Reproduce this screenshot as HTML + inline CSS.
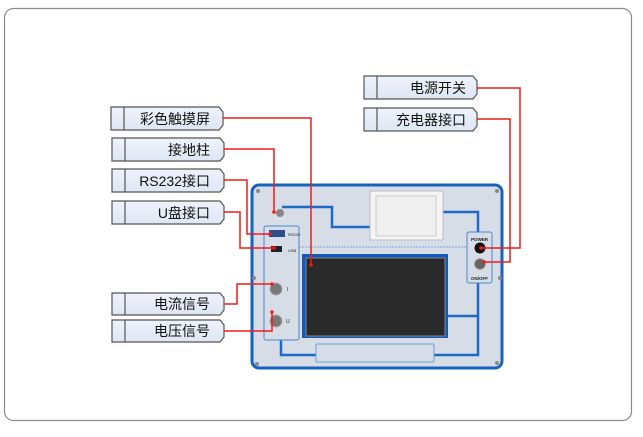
<!DOCTYPE html>
<html><head><meta charset="utf-8"><style>
html,body{margin:0;padding:0;background:#fff;}
svg{display:block;}
text{font-family:"Liberation Sans","Noto Sans CJK SC",sans-serif;}
</style></head><body>
<svg width="643" height="437" viewBox="0 0 643 437" xmlns="http://www.w3.org/2000/svg">
<rect x="4.5" y="8.5" width="627" height="412" rx="9" fill="#fff" stroke="#8a8a8a" stroke-width="1.2"/>
<defs>
<linearGradient id="lb" x1="0" y1="0" x2="0" y2="1"><stop offset="0" stop-color="#eef2fb"/><stop offset="1" stop-color="#dfe6f3"/></linearGradient>
</defs>
<!-- labels -->
<g stroke="#555" stroke-width="1.2" fill="url(#lb)">
<path d="M111,107 H219 L223,112 V125 L219,130 H111 Z"/>
<path d="M112,138 H220 L224,143 V156 L220,161 H112 Z"/>
<path d="M112,169 H220 L224,174 V187 L220,192 H112 Z"/>
<path d="M112,201 H220 L224,206 V219 L220,224 H112 Z"/>
<path d="M112,293 H220 L224,298 V310 L220,315 H112 Z"/>
<path d="M112,320 H220 L224,325 V337 L220,342 H112 Z"/>
<path d="M364,76 H473 L477,81 V94 L473,99 H364 Z"/>
<path d="M364,108 H473 L477,113 V126 L473,131 H364 Z"/>
</g>
<g stroke="#555" stroke-width="1.2">
<line x1="124" y1="107" x2="124" y2="130"/><line x1="125" y1="138" x2="125" y2="161"/>
<line x1="125" y1="169" x2="125" y2="192"/><line x1="125" y1="201" x2="125" y2="224"/>
<line x1="125" y1="293" x2="125" y2="315"/><line x1="125" y1="320" x2="125" y2="342"/>
<line x1="377" y1="76" x2="377" y2="99"/><line x1="377" y1="108" x2="377" y2="131"/>
</g>
<g font-size="14" fill="#111" text-anchor="end">
<text x="210" y="124">彩色触摸屏</text>
<text x="210" y="155">接地柱</text>
<text x="210" y="186">RS232接口</text>
<text x="210" y="218">U盘接口</text>
<text x="210" y="309">电流信号</text>
<text x="210" y="336">电压信号</text>
<text x="466" y="93">电源开关</text>
<text x="466" y="125">充电器接口</text>
</g>
<!-- device -->
<rect x="252" y="185" width="250" height="183" rx="7" fill="#d7dde6" stroke="#1463c0" stroke-width="3"/>
<g fill="none" stroke="#1a6ac8" stroke-width="2.5">
<path d="M282,207 H332 V227 H370"/>
<path d="M443,212 H478 V232"/>
<path d="M281,340 V355 H316"/>
<path d="M434,355 H478 V283"/>
<path d="M448,316 H478"/>
</g>
<line x1="299" y1="247" x2="467" y2="247" stroke="#7aa8d8" stroke-width="1" stroke-dasharray="2,1"/>
<rect x="264" y="226" width="35" height="114" rx="2" fill="#d7dde6" stroke="#4a86cf" stroke-width="1"/>
<rect x="467" y="232" width="25" height="51" rx="2" fill="#d7dde6" stroke="#4a86cf" stroke-width="1"/>
<rect x="316" y="344" width="118" height="18" rx="1" fill="#d7dde6" stroke="#6a9fd8" stroke-width="1"/>
<rect x="370" y="191" width="73" height="49" fill="#f4f4f4" stroke="#bbb"/>
<rect x="376" y="196" width="60" height="40" fill="#efefef" stroke="#ccc"/>
<rect x="302" y="254" width="146" height="84" fill="#1458b8"/>
<rect x="306" y="258" width="139" height="78" fill="#2a2a2a" stroke="#888" stroke-width="1"/>
<!-- connectors -->
<circle cx="280" cy="213" r="4" fill="#888"/>
<rect x="269" y="230" width="16" height="7" fill="#2b4f8a"/>
<rect x="271" y="246" width="11" height="6" fill="#222"/>
<text x="288" y="236" font-size="4" fill="#222">RS232</text>
<text x="288" y="252" font-size="4" fill="#222">USB</text>
<circle cx="276" cy="289" r="6" fill="#777" stroke="#aaa"/>
<circle cx="276" cy="321" r="6" fill="#777" stroke="#aaa"/>
<text x="287" y="291" font-size="5" fill="#222">I</text>
<text x="286" y="323" font-size="5" fill="#222">U</text>
<circle cx="480" cy="248" r="5.5" fill="#111"/>
<circle cx="480" cy="264" r="5.5" fill="#666" stroke="#aaa"/>
<text x="479.5" y="241" font-size="4.5" font-weight="bold" text-anchor="middle" fill="#222">POWER</text>
<text x="479.5" y="280" font-size="4.5" font-weight="bold" text-anchor="middle" fill="#222">ON/OFF</text>
<g fill="#888"><circle cx="258" cy="191" r="2"/><circle cx="497" cy="191" r="2"/><circle cx="257" cy="364" r="2"/><circle cx="497" cy="363" r="2"/><circle cx="254" cy="278" r="2"/><circle cx="500" cy="278" r="2"/></g>
<!-- red lines -->
<g fill="none" stroke="#ee1c1c" stroke-width="1.5">
<path d="M223,118 H311 V265"/>
<path d="M224,149 H274 V212"/>
<path d="M224,180 H247 V234 H270"/>
<path d="M224,212 H240 V248 H274"/>
<path d="M224,304 H237 V284 H272"/>
<path d="M224,331 H272 V312"/>
<path d="M477,88 H520 V248 H481"/>
<path d="M477,119 H510 V262 H484"/>
</g>
<g fill="#ee1c1c"><circle cx="311" cy="265" r="1.8"/><circle cx="274" cy="212" r="1.8"/><circle cx="270" cy="234" r="1.8"/><circle cx="274" cy="248" r="1.8"/><circle cx="272" cy="284" r="1.8"/><circle cx="272" cy="312" r="1.8"/><circle cx="481" cy="248" r="1.8"/><circle cx="484" cy="262" r="1.8"/></g>
</svg>
</body></html>
